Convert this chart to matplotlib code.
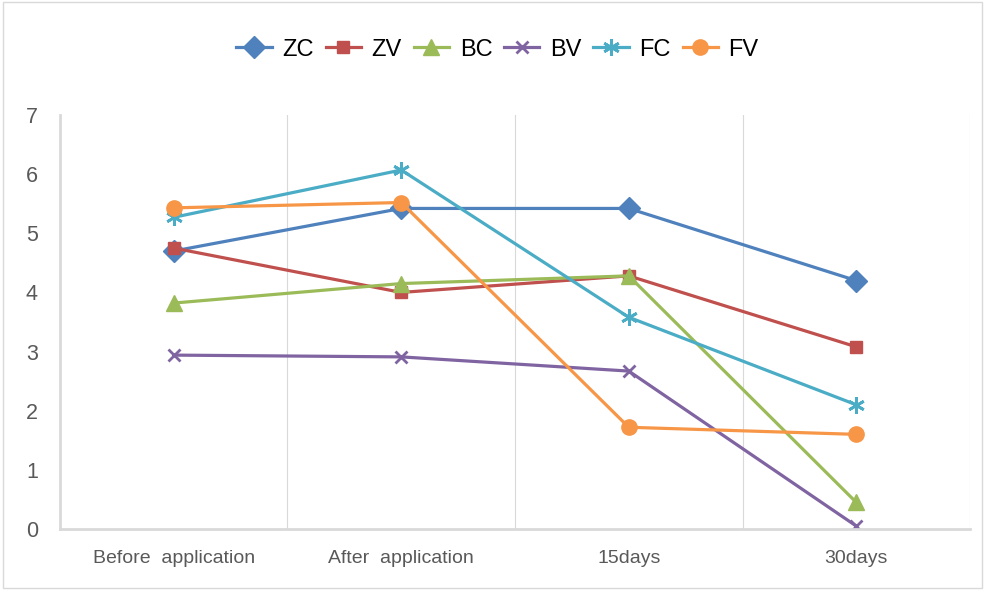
import matplotlib
matplotlib.use("Agg")
import matplotlib.pyplot as plt
from matplotlib.patches import Rectangle

categories = ["Before  application", "After  application", "15days", "30days"]
ZC = [4.70, 5.42, 5.42, 4.20]
ZV = [4.75, 4.00, 4.28, 3.08]
BC = [3.82, 4.15, 4.28, 0.45]
BV = [2.94, 2.91, 2.67, 0.05]
FC = [5.27, 6.07, 3.58, 2.10]
FV = [5.43, 5.52, 1.72, 1.60]
yticks = [0, 1, 2, 3, 4, 5, 6, 7]

series = [
    ("ZC", ZC, "#4F81BD", "D", 11),
    ("ZV", ZV, "#C0504D", "s", 9),
    ("BC", BC, "#9BBB59", "^", 11),
    ("BV", BV, "#8064A2", "x", 9),
    ("FC", FC, "#4BACC6", (6, 2, 0), 12),
    ("FV", FV, "#F79646", "o", 11),
]

plt.rcParams['font.family'] = ['Liberation Sans', 'DejaVu Sans']

fig = plt.figure(figsize=(9.85, 5.9), dpi=100)
fig.patches.append(Rectangle((0.003, 0.003), 0.994, 0.994, transform=fig.transFigure,
                             fill=False, edgecolor="#D9D9D9", linewidth=1))
ax = fig.add_axes([0.0609, 0.1034, 0.9239, 0.7017])

x = list(range(len(categories)))
handles = []
for name, vals, color, marker, ms in series:
    mew = 2 if marker in ("x",) or isinstance(marker, tuple) else 1
    h, = ax.plot(x, vals, color=color, linewidth=2.3, marker=marker, markersize=ms,
                 markeredgewidth=mew, markerfacecolor=color, markeredgecolor=color, label=name)
    handles.append(h)

ax.set_xlim(-0.5, 3.5)
ax.set_ylim(0, 7)
ax.set_yticks(yticks)
ax.set_xticks(x)
ax.set_xticklabels(categories, fontsize=14, color="#595959")
ax.tick_params(axis='y', labelsize=15.5, colors="#595959", length=0, pad=16)
ax.tick_params(axis='x', length=0, pad=15)
for xv in [0.5, 1.5, 2.5, 3.5]:
    ax.axvline(xv, color="#D9D9D9", linewidth=0.8, zorder=0)
for s in ["top", "right"]:
    ax.spines[s].set_visible(False)
ax.spines["left"].set_color("#D9D9D9")
ax.spines["bottom"].set_color("#D9D9D9")
ax.spines["left"].set_linewidth(2)
ax.spines["bottom"].set_linewidth(2)

fig.legend(handles=handles, loc="center", bbox_to_anchor=(0.505, 0.916), ncol=6,
           frameon=False, fontsize=17, handlelength=1.5, columnspacing=0.5, handletextpad=0.45)

fig.savefig("out.png", dpi=100)
